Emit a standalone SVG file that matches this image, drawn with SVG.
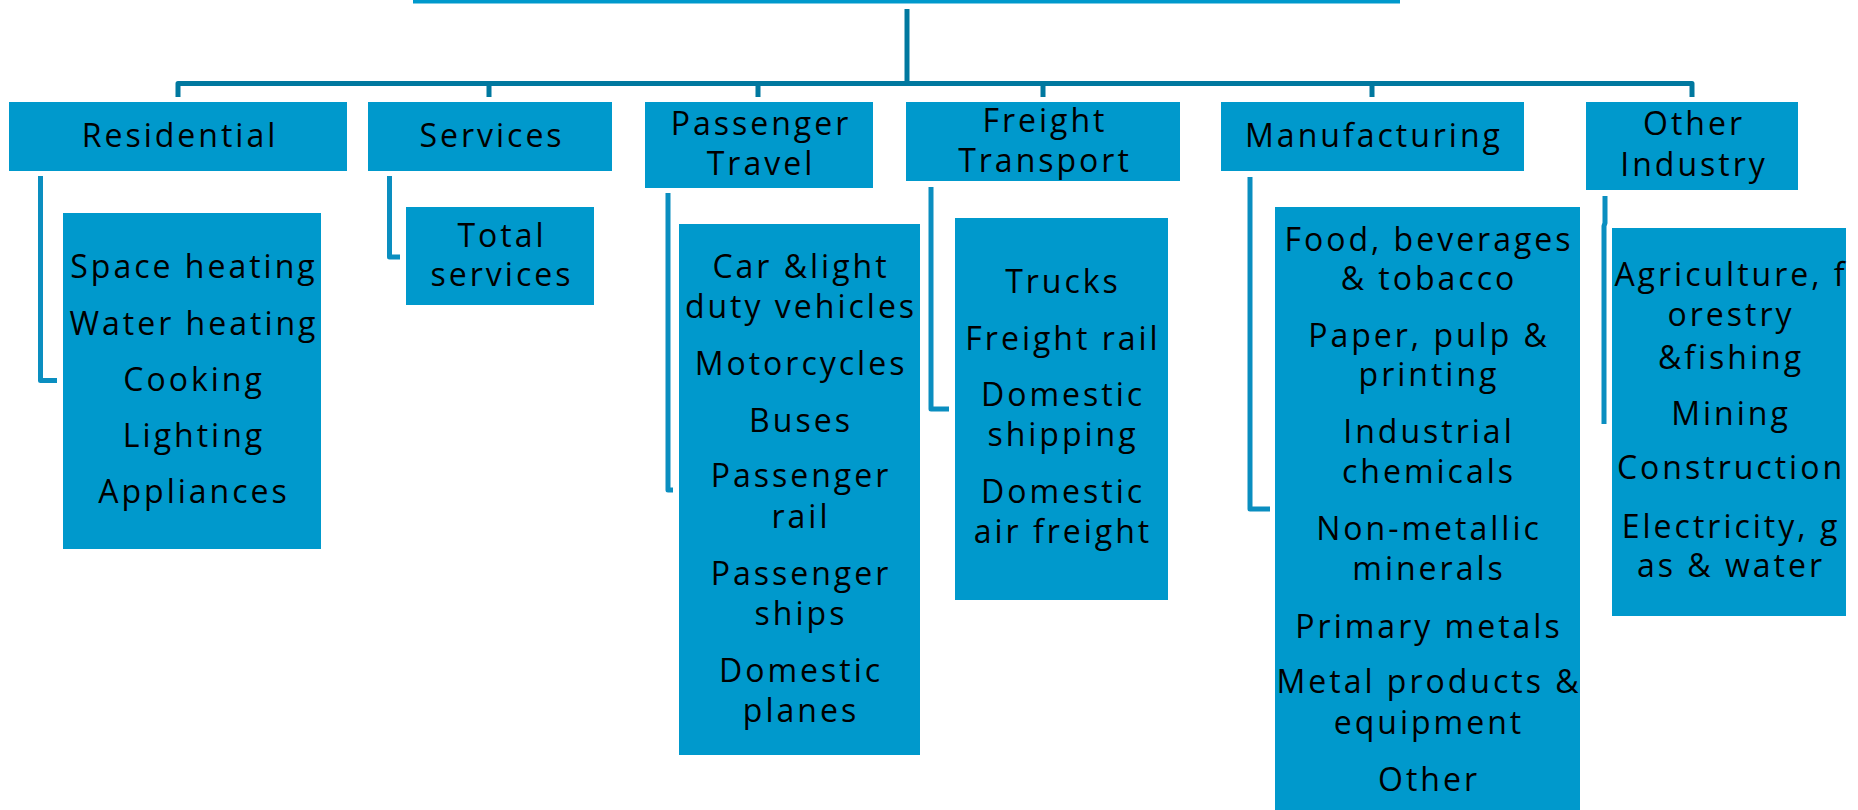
<svg xmlns="http://www.w3.org/2000/svg" width="1858" height="810" viewBox="0 0 1858 810">
  <style>
    .box { fill: #0099CC; }
    .lbl { font-family: "Open Sans", "Liberation Sans", Arial, sans-serif; font-size: 32px; letter-spacing: 3px; fill: #000; text-anchor: middle; }
    .bus { fill: none; stroke: #00789F; stroke-width: 5; stroke-linejoin: round; }
    .leg { fill: none; stroke: #0A8EC0; stroke-width: 5; stroke-linejoin: round; }
  </style>
  <rect width="1858" height="810" fill="#fff"/>

  <!-- root node (only its bottom edge is in frame) -->
  <g id="root">
    <rect class="box" x="413" y="0" width="987" height="3.5"/>
  </g>

  <!-- connectors -->
  <g id="connectors">
    <path class="bus" d="M907,9 V83.5"/>
    <path class="bus" d="M178,97 V83.5 H1692 V97"/>
    <path class="bus" d="M489,83.5 V97 M758,83.5 V97 M1043,83.5 V97 M1372,83.5 V97"/>
    <path class="leg" d="M40.5,176 V380.5 H57"/>
    <path class="leg" d="M389.5,176 V257 H400"/>
    <path class="leg" d="M668,193 V490 H673"/>
    <path class="leg" d="M931,187 V409 H949"/>
    <path class="leg" d="M1250,177 V509 H1270"/>
    <path class="leg" d="M1605,196 V223 L1604,226 V424"/>
  </g>

  <!-- sectors -->
  <g id="residential">
    <rect class="box" x="9" y="102" width="338" height="69"/>
    <text class="lbl" x="180" y="147">Residential</text>
  </g>
  <g id="services">
    <rect class="box" x="368" y="102" width="244" height="69"/>
    <text class="lbl" x="492" y="147">Services</text>
  </g>
  <g id="passenger-travel">
    <rect class="box" x="645" y="102" width="228" height="86"/>
    <text class="lbl" x="761" y="135">Passenger</text>
    <text class="lbl" x="761" y="175">Travel</text>
  </g>
  <g id="freight-transport">
    <rect class="box" x="906" y="102" width="274" height="79"/>
    <text class="lbl" x="1045" y="132">Freight</text>
    <text class="lbl" x="1045" y="172">Transport</text>
  </g>
  <g id="manufacturing">
    <rect class="box" x="1221" y="102" width="303" height="69"/>
    <text class="lbl" x="1374" y="147">Manufacturing</text>
  </g>
  <g id="other-industry">
    <rect class="box" x="1586" y="102" width="212" height="88"/>
    <text class="lbl" x="1694" y="135">Other</text>
    <text class="lbl" x="1694" y="176">Industry</text>
  </g>

  <!-- end uses -->
  <g id="residential-uses">
    <rect class="box" x="63" y="213" width="258" height="336"/>
    <text class="lbl" x="194" y="278">Space heating</text>
    <text class="lbl" x="194" y="335">Water heating</text>
    <text class="lbl" x="194" y="391">Cooking</text>
    <text class="lbl" x="194" y="447">Lighting</text>
    <text class="lbl" x="194" y="503">Appliances</text>
  </g>
  <g id="services-uses">
    <rect class="box" x="406" y="207" width="188" height="98"/>
    <text class="lbl" x="502" y="247">Total</text>
    <text class="lbl" x="502" y="286">services</text>
  </g>
  <g id="passenger-modes">
    <rect class="box" x="679" y="224" width="241" height="531"/>
    <text class="lbl" x="801" y="278">Car &amp;light</text>
    <text class="lbl" x="801" y="318">duty vehicles</text>
    <text class="lbl" x="801" y="375">Motorcycles</text>
    <text class="lbl" x="801" y="432">Buses</text>
    <text class="lbl" x="801" y="487">Passenger</text>
    <text class="lbl" x="801" y="528">rail</text>
    <text class="lbl" x="801" y="585">Passenger</text>
    <text class="lbl" x="801" y="625">ships</text>
    <text class="lbl" x="801" y="682">Domestic</text>
    <text class="lbl" x="801" y="722">planes</text>
  </g>
  <g id="freight-modes">
    <rect class="box" x="955" y="218" width="213" height="382"/>
    <text class="lbl" x="1063" y="293">Trucks</text>
    <text class="lbl" x="1063" y="350">Freight rail</text>
    <text class="lbl" x="1063" y="406">Domestic</text>
    <text class="lbl" x="1063" y="446">shipping</text>
    <text class="lbl" x="1063" y="503">Domestic</text>
    <text class="lbl" x="1063" y="543">air freight</text>
  </g>
  <g id="manufacturing-branches">
    <rect class="box" x="1275" y="207" width="305" height="603"/>
    <text class="lbl" x="1429" y="251">Food, beverages</text>
    <text class="lbl" x="1429" y="290">&amp; tobacco</text>
    <text class="lbl" x="1429" y="347">Paper, pulp &amp;</text>
    <text class="lbl" x="1429" y="386">printing</text>
    <text class="lbl" x="1429" y="443">Industrial</text>
    <text class="lbl" x="1429" y="483">chemicals</text>
    <text class="lbl" x="1429" y="540">Non-metallic</text>
    <text class="lbl" x="1429" y="580">minerals</text>
    <text class="lbl" x="1429" y="638">Primary metals</text>
    <text class="lbl" x="1429" y="693">Metal products &amp;</text>
    <text class="lbl" x="1429" y="734">equipment</text>
    <text class="lbl" x="1429" y="791">Other</text>
  </g>
  <g id="other-industry-branches">
    <rect class="box" x="1612" y="228" width="234" height="388"/>
    <text class="lbl" x="1731" y="286">Agriculture, f</text>
    <text class="lbl" x="1731" y="326">orestry</text>
    <text class="lbl" x="1731" y="369">&amp;fishing</text>
    <text class="lbl" x="1731" y="425">Mining</text>
    <text class="lbl" x="1731" y="479">Construction</text>
    <text class="lbl" x="1731" y="538">Electricity, g</text>
    <text class="lbl" x="1731" y="577">as &amp; water</text>
  </g>
</svg>
